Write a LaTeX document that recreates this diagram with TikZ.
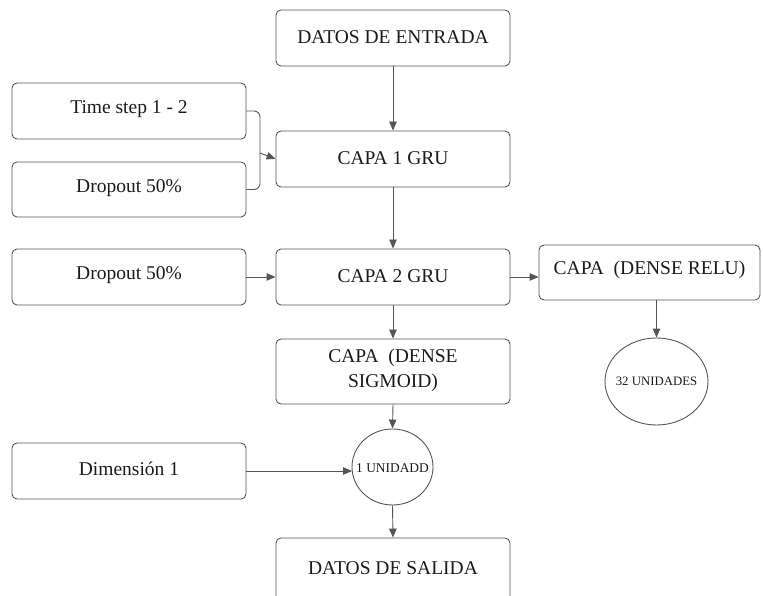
\documentclass[tikz,border=0pt]{standalone}
\usepackage{fontspec}
\setmainfont{Liberation Serif}
\usetikzlibrary{arrows.meta,positioning,shapes.geometric}
\definecolor{ln}{HTML}{555555}
\definecolor{tx}{HTML}{1A1A1A}
\tikzset{
  box/.style={draw=ln, line width=0.9pt, rounded corners=5pt, text=tx, font=\fontsize{19.5}{21}\selectfont, inner sep=0pt},
  lbl/.style={text=tx, font=\fontsize{19.5}{21}\selectfont, inner sep=0pt},
  oval/.style={draw=ln, line width=0.9pt, ellipse, text=tx, inner sep=0pt},
  conn/.style={draw=ln, line width=0.9pt, -{Triangle[length=9pt,width=7.5pt]}},
  plain/.style={draw=ln, line width=0.9pt}
}
\begin{document}
\begin{tikzpicture}[x=1pt,y=-1pt]
\useasboundingbox (0,0) rectangle (763,596);
\clip (0,0) rectangle (763,596);
\node[box, minimum width=234pt, minimum height=56pt] (entrada) at (393,38) {};
\node[lbl] (entradat) at (393,37) {DATOS DE ENTRADA};
\node[box, minimum width=234pt, minimum height=56pt] (time) at (129,111) {};
\node[lbl] (timet) at (129,109) {Time step 1 - 2};
\node[box, minimum width=234pt, minimum height=55pt] (drop1) at (129,189.5) {};
\node[lbl] (drop1t) at (129,188) {Dropout 50\%};
\node[box, minimum width=234pt, minimum height=56pt] (capa1) at (393,159) {};
\node[lbl] (capa1t) at (393,158) {CAPA 1 GRU};
\node[box, minimum width=234pt, minimum height=56pt] (drop2) at (129,277) {};
\node[lbl] (drop2t) at (129,275) {Dropout 50\%};
\node[box, minimum width=234pt, minimum height=56pt] (capa2) at (393,277) {};
\node[lbl] (capa2t) at (393,276) {CAPA 2 GRU};
\node[box, minimum width=221pt, minimum height=55pt] (relu) at (649.5,272.5) {};
\node[lbl] (relut) at (649.5,270) {CAPA\ \ (DENSE RELU)};
\node[box, minimum width=234pt, minimum height=65pt] (sigm) at (393,371.5) {};
\node[lbl, align=center, font=\fontsize{19.5}{25}\selectfont] (sigmt) at (393,370) {CAPA\ \ (DENSE\\SIGMOID)};
\node[oval, minimum width=103pt, minimum height=87pt] (u32) at (656.5,381.5) {};
\node[lbl, font=\fontsize{12.8}{14}\selectfont] (u32t) at (656.5,381.5) {32 UNIDADES};
\node[oval, minimum width=81pt, minimum height=76pt] (u1) at (392.5,467) {};
\node[lbl, font=\fontsize{13.4}{14}\selectfont] (u1t) at (392.5,468) {1 UNIDADD};
\node[box, minimum width=234pt, minimum height=56pt] (dim) at (129,471) {};
\node[lbl] (dimt) at (129,469) {Dimensión 1};
\node[box, minimum width=234pt, minimum height=70pt] (salida) at (393,573) {};
\node[lbl] (salidat) at (393,568) {DATOS DE SALIDA};
\coordinate (bk) at (260,153);
\draw[plain, rounded corners=6pt] (time.east) -- (260,111) -- (260,189.5) -- (drop1.east);
\draw[conn] (bk) -- (capa1.west);
\draw[conn] (entrada.south) -- (capa1.north);
\draw[conn] (capa1.south) -- (capa2.north);
\draw[conn] (drop2.east) -- (capa2.west);
\draw[conn] (capa2.east) -- (relu.west |- capa2.east);
\draw[conn] (relu.south -| u32.north) -- (u32.north);
\draw[conn] (capa2.south) -- (sigm.north);
\draw[conn] (sigm.south) -- (u1.north);
\draw[conn] (dim.east) -- ([xshift=0.5pt]u1.west |- dim.east);
\draw[conn] (u1.south) -- (salida.north);
\end{tikzpicture}
\end{document}
